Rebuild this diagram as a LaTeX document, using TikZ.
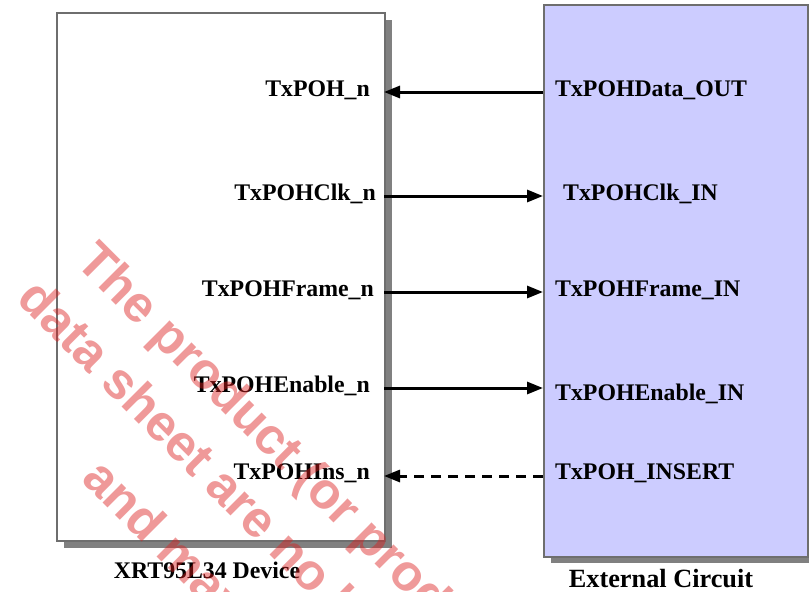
\documentclass[tikz,border=0pt]{standalone}
\usepackage{fontspec}
\setmainfont{Liberation Serif}
\newfontfamily\wmfont{Liberation Sans}
\usetikzlibrary{arrows.meta}
\definecolor{extfill}{RGB}{204,204,255}
\definecolor{boxline}{RGB}{110,110,110}
\definecolor{shadowgray}{RGB}{128,128,128}
\definecolor{wmred}{RGB}{220,30,30}
\tikzset{
  pin/.style={font=\fontsize{23.8}{28}\selectfont\bfseries, inner sep=0pt},
  caption/.style={font=\fontsize{23.8}{28}\selectfont\bfseries, inner sep=0pt},
  sig/.style={line width=3pt, -{Triangle[length=16pt,width=12pt]}},
  sigdash/.style={sig, dash pattern=on 10pt off 7pt},
  wm/.style={font=\wmfont\fontsize{51}{60}\selectfont\bfseries, text=wmred, text opacity=0.45, rotate=-45, inner sep=0pt, anchor=base west},
  mainbox/.style={draw=boxline, line width=1.6pt}
}
\begin{document}
\begin{tikzpicture}[x=1pt,y=-1pt]
\useasboundingbox (0,0) rectangle (809,592);
\clip (0,0) rectangle (809,592);
% shadows
\fill[shadowgray] (64,20) rectangle (392,548);
\fill[shadowgray] (551,12) rectangle (815,563);
% boxes
\node[mainbox, fill=white, minimum width=328pt, minimum height=528pt, anchor=north west, inner sep=0pt] (dev) at (56,12) {};
\node[mainbox, fill=extfill, minimum width=264pt, minimum height=552pt, anchor=north west, inner sep=0pt] (ext) at (543,4) {};
% left pin labels
\node[pin, anchor=base east] (p1) at (370,96) {TxPOH\_n};
\node[pin, anchor=base east] (p2) at (376,200) {TxPOHClk\_n};
\node[pin, anchor=base east] (p3) at (374,296) {TxPOHFrame\_n};
\node[pin, anchor=base east] (p4) at (370,392) {TxPOHEnable\_n};
\node[pin, anchor=base east] (p5) at (370,479) {TxPOHIns\_n};
% right pin labels
\node[pin, anchor=base west] (q1) at (555,96) {TxPOHData\_OUT};
\node[pin, anchor=base west] (q2) at (563,200) {TxPOHClk\_IN};
\node[pin, anchor=base west] (q3) at (555,296) {TxPOHFrame\_IN};
\node[pin, anchor=base west] (q4) at (555,400) {TxPOHEnable\_IN};
\node[pin, anchor=base west] (q5) at (555,479) {TxPOH\_INSERT};
% connection points
\coordinate (l1) at (384,92);  \coordinate (r1) at (543,92);
\coordinate (l2) at (384,196); \coordinate (r2) at (543,196);
\coordinate (l3) at (384,292); \coordinate (r3) at (543,292);
\coordinate (l4) at (384,388); \coordinate (r4) at (543,388);
\coordinate (l5) at (384,476); \coordinate (r5) at (543,476);
\draw[sig] (r1) -- (l1);
\draw[sig] (l2) -- (r2);
\draw[sig] (l3) -- (r3);
\draw[sig] (l4) -- (r4);
\draw[sigdash] (r5) -- (l5);
% captions
\node[caption, anchor=base] (devcap) at (207,578) {XRT95L34 Device};
\node[caption, font=\fontsize{26.3}{30}\selectfont\bfseries, anchor=base] (extcap) at (661,587) {External Circuit};
% watermark
\node[wm] (w1) at (74,263) {The product (or products};
\node[wm] (w2) at (15,300) {data sheet are no longer};
\node[wm] (w3) at (80,480) {and may not};
\end{tikzpicture}
\end{document}
